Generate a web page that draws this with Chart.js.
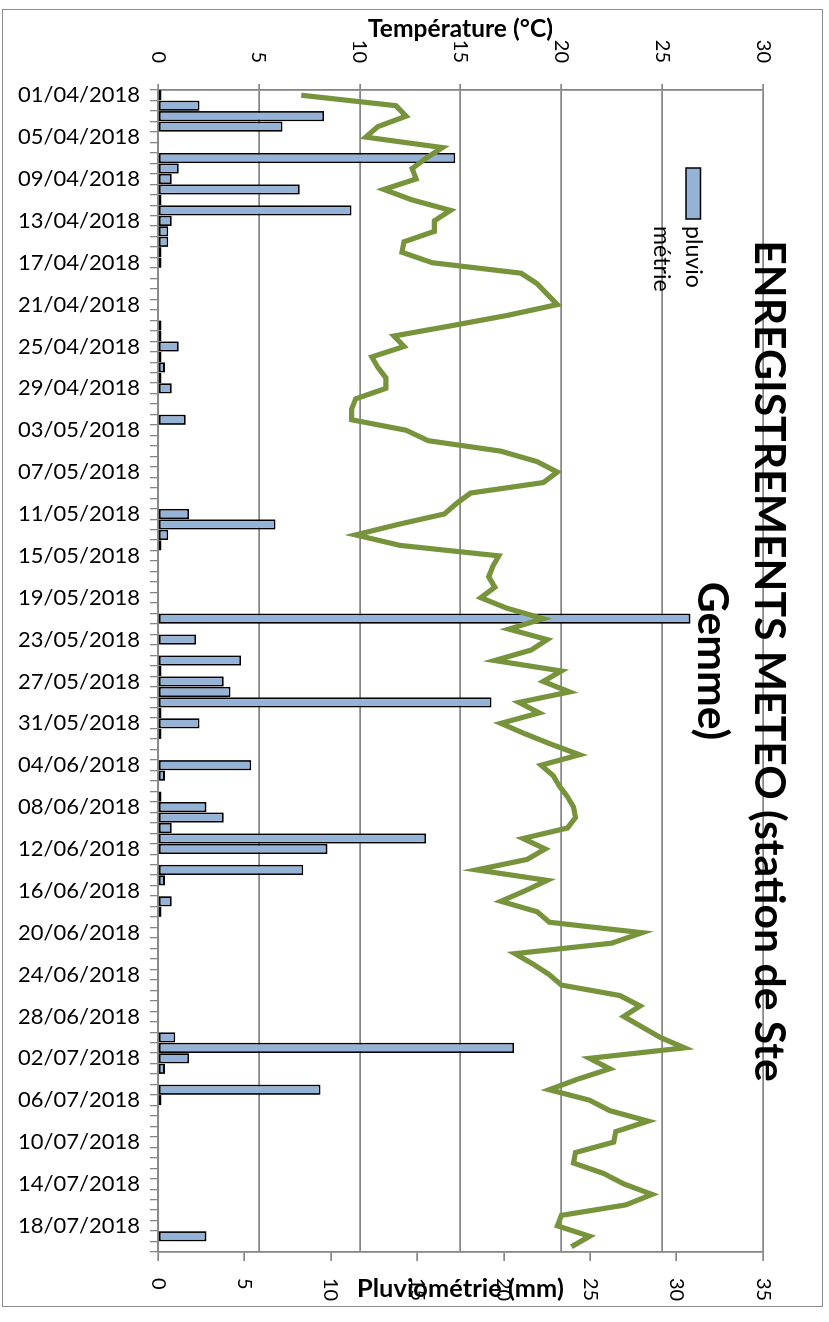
<!DOCTYPE html>
<html><head><meta charset="utf-8">
<script src="https://cdn.jsdelivr.net/npm/chart.js@4.4.1/dist/chart.umd.min.js"></script>
<style>
html,body{margin:0;padding:0;background:#fff;width:829px;height:1322px;overflow:hidden;}
#rot{position:absolute;left:0;top:0;width:1322px;height:829px;transform-origin:0 0;transform:translate(829px,0) rotate(90deg);}
#frame{position:absolute;left:9px;top:6px;width:1298px;height:821px;border:1.5px solid #8c8c8c;box-sizing:border-box;}
#c{position:absolute;left:0;top:0;}
</style></head><body>
<div id="rot"><div id="frame"></div><canvas id="c" width="1322" height="829"></canvas></div>
<script>
const dates = [
"01/04/2018","02/04/2018","03/04/2018","04/04/2018","05/04/2018","06/04/2018","07/04/2018","08/04/2018","09/04/2018","10/04/2018",
"11/04/2018","12/04/2018","13/04/2018","14/04/2018","15/04/2018","16/04/2018","17/04/2018","18/04/2018","19/04/2018","20/04/2018",
"21/04/2018","22/04/2018","23/04/2018","24/04/2018","25/04/2018","26/04/2018","27/04/2018","28/04/2018","29/04/2018","30/04/2018",
"01/05/2018","02/05/2018","03/05/2018","04/05/2018","05/05/2018","06/05/2018","07/05/2018","08/05/2018","09/05/2018","10/05/2018",
"11/05/2018","12/05/2018","13/05/2018","14/05/2018","15/05/2018","16/05/2018","17/05/2018","18/05/2018","19/05/2018","20/05/2018",
"21/05/2018","22/05/2018","23/05/2018","24/05/2018","25/05/2018","26/05/2018","27/05/2018","28/05/2018","29/05/2018","30/05/2018",
"31/05/2018","01/06/2018","02/06/2018","03/06/2018","04/06/2018","05/06/2018","06/06/2018","07/06/2018","08/06/2018","09/06/2018",
"10/06/2018","11/06/2018","12/06/2018","13/06/2018","14/06/2018","15/06/2018","16/06/2018","17/06/2018","18/06/2018","19/06/2018",
"20/06/2018","21/06/2018","22/06/2018","23/06/2018","24/06/2018","25/06/2018","26/06/2018","27/06/2018","28/06/2018","29/06/2018",
"30/06/2018","01/07/2018","02/07/2018","03/07/2018","04/07/2018","05/07/2018","06/07/2018","07/07/2018","08/07/2018","09/07/2018",
"10/07/2018","11/07/2018","12/07/2018","13/07/2018","14/07/2018","15/07/2018","16/07/2018","17/07/2018","18/07/2018","19/07/2018",
"20/07/2018"];
const shownDates = ["01/04/2018","05/04/2018","09/04/2018","13/04/2018","17/04/2018","21/04/2018","25/04/2018","29/04/2018",
"03/05/2018","07/05/2018","11/05/2018","15/05/2018","19/05/2018","23/05/2018","27/05/2018","31/05/2018",
"04/06/2018","08/06/2018","12/06/2018","16/06/2018","20/06/2018","24/06/2018","28/06/2018",
"02/07/2018","06/07/2018","10/07/2018","14/07/2018","18/07/2018"];
const rain = [
0.2,2.4,9.6,7.2,0,0,17.2,1.2,0.8,8.2,
0.2,11.2,0.8,0.6,0.6,0.2,0.2,0,0,0,
0,0,0.2,0.2,1.2,0.2,0.4,0.2,0.8,0,
0,1.6,0,0,0,0,0,0,0,0,
1.8,6.8,0.6,0.2,0,0,0,0,0,0,
30.8,0,2.2,0,4.8,0.2,3.8,4.2,19.3,0.2,
2.4,0.2,0,0,5.4,0.4,0,0.2,2.8,3.8,
0.8,15.5,9.8,0,8.4,0.4,0,0.8,0.2,0,
0,0,0,0,0,0,0,0,0,0,
1.0,20.6,1.8,0.4,0,9.4,0.2,0,0,0,
0,0,0,0,0,0,0,0,0,2.8,
0];
const temperature = [
7.1,11.8,12.3,10.9,10.3,14.1,13.3,12.6,12.8,11.2,
12.6,14.5,13.7,13.7,12.2,12.1,13.6,18.0,18.8,19.3,
19.8,17.4,14.6,11.7,12.2,10.6,10.9,11.3,11.3,9.8,
9.6,9.6,12.3,13.4,17.0,18.8,19.8,19.1,15.5,14.8,
14.2,11.9,9.8,12.0,16.9,16.6,16.4,16.7,16.0,17.3,
19.1,17.4,19.3,18.5,16.7,20.0,19.1,20.4,17.9,18.9,
17.0,18.2,19.5,20.9,19.0,19.6,19.9,20.3,20.6,20.7,
20.3,18.1,19.2,18.3,15.8,19.3,18.2,17.0,18.8,19.4,
24.0,22.5,17.7,18.6,19.4,20.0,22.9,23.9,23.1,24.0,
24.9,26.1,21.4,22.4,20.8,19.4,21.4,22.4,24.3,22.7,
22.6,20.7,20.6,22.1,23.1,24.5,23.2,20.0,19.8,21.4,
20.5];
const tempTicks = [0,5,10,15,20,25,30];
const rainTicks = [0,5,10,15,20,25,30,35];
const titleLines = ["ENREGISTREMENTS METEO (station de Ste","Gemme)"];
const tempTitle = "Température (°C)";
const rainTitle = "Pluviométrie (mm)";
const legendLines = ["pluvio","métrie"];

const FONT = 'Lato, "Open Sans", sans-serif';
const GRID = '#868686';
const BAR_FILL = '#95B3D7';
const LINE_COL = '#77933C';

function fitSize(ctx, text, weight, target){
  ctx.font = weight + ' 40px ' + FONT;
  return 40 * target / ctx.measureText(text).width;
}

const overlay = {
  id: 'overlay',
  afterDraw(chart){
    const ctx = chart.ctx;
    const a = chart.chartArea;
    const cy = (a.top + a.bottom) / 2;
    ctx.save();
    ctx.fillStyle = '#000';
    const ts = fitSize(ctx, titleLines[0], 'bold', 842);
    ctx.font = 'bold ' + ts + 'px ' + FONT;
    ctx.textAlign = 'center';
    ctx.textBaseline = 'alphabetic';
    ctx.fillText(titleLines[0], chart.width / 2, 74);
    ctx.fillText(titleLines[1], chart.width / 2, 131);
    const as1 = fitSize(ctx, tempTitle, 'bold', 185);
    ctx.font = 'bold ' + as1 + 'px ' + FONT;
    ctx.save(); ctx.translate(37, cy); ctx.rotate(-Math.PI/2); ctx.fillText(tempTitle, 0, 0); ctx.restore();
    const as2 = fitSize(ctx, rainTitle, 'bold', 207);
    ctx.font = 'bold ' + as2 + 'px ' + FONT;
    ctx.save(); ctx.translate(1297, cy); ctx.rotate(-Math.PI/2); ctx.fillText(rainTitle, 0, 0); ctx.restore();
    ctx.fillStyle = BAR_FILL;
    ctx.fillRect(168, 128.5, 51, 14.5);
    ctx.strokeStyle = '#000'; ctx.lineWidth = 1.5;
    ctx.strokeRect(168, 128.5, 51, 14.5);
    ctx.fillStyle = '#000';
    const ls = fitSize(ctx, legendLines[0], 'normal', 62);
    ctx.font = ls + 'px ' + FONT;
    ctx.textAlign = 'left';
    ctx.fillText(legendLines[0], 226, 143);
    ctx.fillText(legendLines[1], 226, 175);
    ctx.restore();
  }
};

new Chart(document.getElementById('c'), {
  data: {
    labels: dates,
    datasets: [
      { type: 'line', label: 'Température', data: temperature, yAxisID: 'yT',
        borderColor: LINE_COL, borderWidth: 5.2, pointRadius: 0, tension: 0, fill: false, order: 0 },
      { type: 'bar', label: 'pluviométrie', data: rain, yAxisID: 'yR',
        backgroundColor: BAR_FILL, borderColor: '#000', borderWidth: 1.8, borderSkipped: false,
        barPercentage: 0.98, categoryPercentage: 1.0, order: 1 }
    ]
  },
  options: {
    responsive: false, animation: false, devicePixelRatio: 1,
    layout: { padding: { top: 66, left: 0, right: 0, bottom: 0 } },
    plugins: { legend: { display: false }, title: { display: false }, tooltip: { enabled: false } },
    scales: {
      x: {
        type: 'category', position: 'bottom', offset: true,
        grid: { offset: true, drawOnChartArea: false, drawTicks: true, tickLength: 8, color: GRID, lineWidth: 1.3 },
        border: { display: true, color: GRID, width: 1.8 },
        ticks: { autoSkip: false, maxRotation: 90, minRotation: 90, padding: 10, color: '#000',
          font: { family: FONT, size: 22 },
          callback: function(v, i){ const l = this.getLabelForValue(v); return shownDates.includes(l) ? l : ''; } },
        afterFit: s => { s.height = 158; }
      },
      yT: {
        type: 'linear', position: 'left', min: 0, max: 30,
        afterBuildTicks: s => { s.ticks = tempTicks.map(v => ({ value: v })); },
        grid: { color: GRID, lineWidth: 1.7, tickLength: 6 },
        border: { display: true, color: GRID, width: 1.8 },
        ticks: { padding: 21, color: '#000', font: { family: FONT, size: 20 } },
        afterFit: s => { s.width = 90; }
      },
      yR: {
        type: 'linear', position: 'right', min: 0, max: 35,
        afterBuildTicks: s => { s.ticks = rainTicks.map(v => ({ value: v })); },
        grid: { drawOnChartArea: false, color: GRID, lineWidth: 1.7, tickLength: 9 },
        border: { display: true, color: GRID, width: 1.8 },
        ticks: { padding: 17, color: '#000', font: { family: FONT, size: 20 } },
        afterFit: s => { s.width = 70; }
      }
    }
  },
  plugins: [overlay]
});
</script>
</body></html>
